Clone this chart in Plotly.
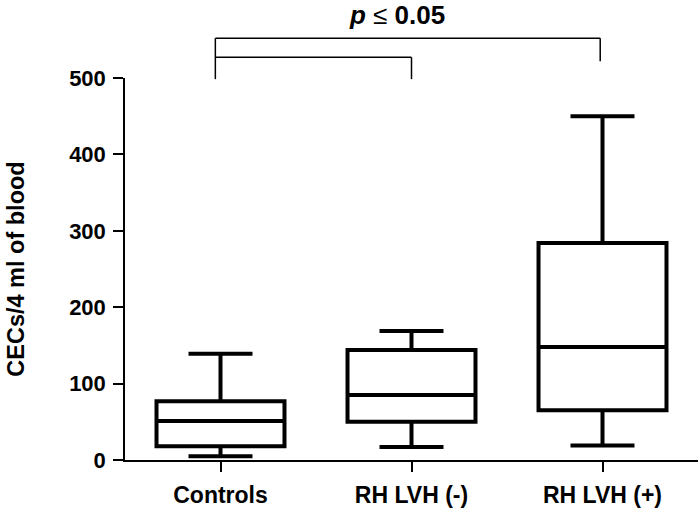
import plotly.graph_objects as go

categories = ["Controls", "RH LVH (-)", "RH LVH (+)"]
minimum = [5, 17, 19]
q1 = [18, 50, 65]
median = [51, 85, 148]
q3 = [77, 144, 284]
maximum = [139, 169, 450]
y_ticks = [0, 100, 200, 300, 400, 500]

FONT = "Liberation Sans, Arial, sans-serif"

fig = go.Figure()
fig.add_trace(go.Box(
    x=categories,
    lowerfence=minimum, q1=q1, median=median, q3=q3, upperfence=maximum,
    boxpoints=False,
    fillcolor="rgba(0,0,0,0)",
    line=dict(color="black", width=4),
    width=0.67,
    whiskerwidth=0.5,
    hoverinfo="skip",
    showlegend=False,
))

ncat = len(categories)


def cat_x(i, offset=0.0):
    return (i + 0.5) / ncat + offset


line_style = dict(color="black", width=1.5)
shapes = [
    # outer bracket: Controls vs RH LVH (+)
    dict(type="line", xref="paper", yref="paper", x0=cat_x(0, -0.009), x1=cat_x(2, -0.004), y0=1.104, y1=1.104, line=line_style),
    dict(type="line", xref="paper", yref="paper", x0=cat_x(0, -0.009), x1=cat_x(0, -0.009), y0=1.104, y1=0.997, line=line_style),
    dict(type="line", xref="paper", yref="paper", x0=cat_x(2, -0.004), x1=cat_x(2, -0.004), y0=1.104, y1=1.044, line=line_style),
    # inner bracket: Controls vs RH LVH (-)
    dict(type="line", xref="paper", yref="paper", x0=cat_x(0, -0.009), x1=cat_x(1), y0=1.054, y1=1.054, line=line_style),
    dict(type="line", xref="paper", yref="paper", x0=cat_x(1), x1=cat_x(1), y0=1.054, y1=0.997, line=line_style),
]

fig.update_layout(
    width=700, height=514,
    margin=dict(l=125, r=2, t=78, b=54),
    paper_bgcolor="white", plot_bgcolor="white",
    font=dict(family=FONT, color="black"),
    shapes=shapes,
    annotations=[dict(
        xref="paper", yref="paper", x=0.475, y=1.166,
        text="<b><i>p</i></b> ≤ <b>0.05</b>",
        showarrow=False, font=dict(size=26, family=FONT, color="black"),
        xanchor="center", yanchor="middle",
    )],
)

fig.update_xaxes(
    automargin=False,
    showline=True, linecolor="black", linewidth=1.5,
    ticks="outside", ticklen=10, tickwidth=1.5, tickcolor="black",
    tickfont=dict(size=23, family=FONT, color="black", weight="bold"),
    showgrid=False, zeroline=False,
    range=[-0.5, 2.5],
    ticklabelstandoff=4,
)
fig.update_yaxes(
    automargin=False,
    range=[0, 500],
    tickvals=y_ticks,
    showline=True, linecolor="black", linewidth=1.5,
    ticks="outside", ticklen=10, tickwidth=1.5, tickcolor="black",
    tickfont=dict(size=22, family=FONT, color="black", weight="bold"),
    showgrid=False, zeroline=False,
    ticklabelstandoff=3,
    title=dict(text="<b>CECs/4 ml of blood</b>", font=dict(size=23.5, family=FONT, color="black"), standoff=38),
)

fig.write_html(
    "out.html",
    config={"displayModeBar": False},
    post_script="document.body.style.margin='0';",
)
